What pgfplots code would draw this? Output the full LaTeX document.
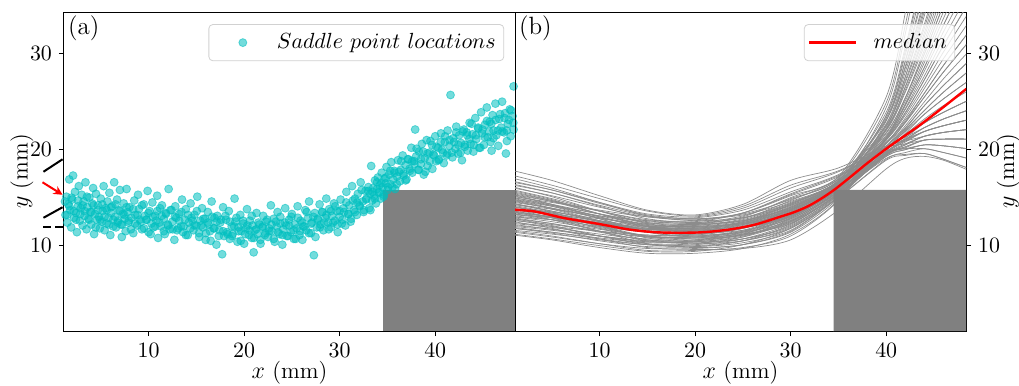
\documentclass[border=0pt]{standalone}
\usepackage{pgfplots}
\usepackage{pgfplotstable}
\pgfplotsset{compat=1.18}
\usetikzlibrary{arrows.meta}

\definecolor{scat}{RGB}{0,191,191}

\pgfplotstableread{
x y
1.3 13.2
1.4 15.1
1.5 12.4
1.6 14.3
1.7 16.9
1.8 13.7
1.9 11.9
2.0 14.8
2.1 17.3
2.2 12.9
2.3 15.6
2.4 13.4
2.5 11.4
2.6 14.1
2.7 16.2
2.8 12.6
2.9 13.9
3.0 15.3
3.1 12.1
3.2 14.6
3.3 13.1
3.4 16.6
3.5 11.7
3.6 14.0
3.7 12.8
3.8 15.0
3.9 13.5
4.0 12.2
4.1 14.4
4.2 16.0
4.3 11.2
4.4 13.3
4.5 15.4
4.6 12.7
4.7 14.2
4.8 13.0
4.9 11.8
5.0 14.9
5.1 12.5
5.2 13.6
5.3 16.2
5.4 11.6
5.5 13.9
5.6 12.3
5.7 14.6
5.8 12.9
5.9 15.5
6.0 11.1
6.1 13.4
6.2 14.1
6.3 12.0
6.4 16.6
6.5 13.0
6.6 11.9
6.7 14.8
6.8 12.6
6.9 13.7
7.0 15.8
7.1 12.2
7.2 10.9
7.3 13.3
7.4 14.4
7.5 12.8
7.6 11.5
7.7 15.9
7.8 13.5
7.9 12.4
8.0 14.0
8.2 12.9
8.4 11.3
8.5 14.7
8.6 13.2
8.8 12.1
8.9 15.3
9.0 13.8
9.2 12.5
9.3 11.7
9.5 14.3
9.6 13.1
9.8 12.7
9.9 15.7
10.0 11.4
10.1 13.6
10.3 12.3
10.4 14.5
10.5 11.9
10.7 13.1
10.8 12.6
10.9 15.2
11.0 10.8
11.2 13.9
11.3 12.0
11.4 14.2
11.6 12.8
11.7 11.2
11.8 13.4
12.0 12.2
12.1 15.9
12.2 11.7
12.4 13.7
12.5 12.5
12.7 10.6
12.8 14.1
12.9 12.9
13.1 11.8
13.2 13.3
13.4 12.0
13.5 14.8
13.6 11.4
13.8 12.7
13.9 13.8
14.1 11.1
14.2 12.4
14.4 14.4
14.5 12.9
14.7 11.6
14.8 13.2
15.0 12.1
15.1 15.1
15.3 10.9
15.4 12.6
15.6 13.9
15.7 11.9
15.9 12.8
16.0 11.3
16.2 13.5
16.3 12.2
16.5 10.5
16.6 14.6
16.8 11.8
16.9 12.9
17.1 10.1
17.2 13.1
17.4 11.6
17.5 12.4
17.7 9.1
17.8 14.0
17.9 11.0
18.1 12.7
18.2 11.4
18.4 13.6
18.5 10.7
18.7 12.0
18.8 11.2
19.0 14.9
19.1 12.5
19.3 10.4
19.4 11.9
19.6 13.2
19.7 11.5
19.9 12.3
20.0 10.2
20.2 11.8
20.3 13.8
20.5 11.1
20.6 12.6
20.8 10.8
20.9 12.1
21.0 9.3
21.1 11.6
21.3 13.4
21.4 11.2
21.6 12.2
21.7 10.6
21.9 11.9
22.0 13.1
22.2 11.3
22.3 12.5
22.5 10.9
22.6 11.8
22.8 14.2
22.9 11.5
23.1 12.8
23.2 10.4
23.4 12.0
23.5 13.5
23.7 11.2
23.8 12.3
24.0 10.1
24.1 11.7
24.3 13.9
24.4 12.1
24.6 11.0
24.7 12.7
24.9 11.4
25.0 13.3
25.2 10.7
25.3 12.2
25.5 11.8
25.6 14.1
25.8 11.1
25.9 12.6
26.1 10.6
26.2 12.0
26.4 13.7
26.5 11.6
26.7 12.9
26.8 14.6
27.0 11.3
27.1 12.4
27.3 9.0
27.4 13.4
27.6 11.9
27.7 12.8
27.9 14.3
28.0 12.2
28.2 13.5
28.3 11.6
28.5 12.9
28.6 14.9
28.8 12.4
28.9 13.8
29.1 11.9
29.2 13.1
29.4 14.4
29.5 12.6
29.7 13.6
29.8 11.4
30.0 13.0
30.1 14.8
30.3 12.7
30.4 13.9
30.6 12.1
30.7 15.6
30.9 13.3
31.0 14.2
31.2 12.8
31.3 16.2
31.5 13.7
31.6 14.9
31.8 13.2
31.9 15.4
32.1 14.1
32.2 16.6
32.4 14.6
32.5 13.5
32.7 15.7
32.8 14.9
33.0 16.1
33.1 13.9
33.2 15.4
33.3 18.3
33.4 14.7
33.5 16.0
33.6 15.2
33.7 16.8
33.8 14.4
33.9 15.9
34.0 17.1
34.1 15.5
34.2 16.3
34.3 14.9
34.4 17.6
34.5 16.1
34.6 15.3
34.7 17.0
34.8 16.5
34.9 18.2
35.0 15.8
35.2 17.4
35.3 16.4
35.4 18.7
35.6 16.9
35.7 17.8
35.8 15.9
36.0 17.2
36.1 18.9
36.3 16.7
36.4 17.9
36.6 19.4
36.7 17.3
36.9 18.4
37.0 16.9
37.2 19.0
37.3 18.0
37.5 20.2
37.6 17.6
37.8 18.8
37.9 22.1
38.0 19.3
38.2 17.9
38.3 19.8
38.5 18.5
38.6 20.6
38.8 17.4
38.9 19.1
39.1 21.0
39.2 18.3
39.4 19.7
39.5 20.9
39.7 18.0
39.8 19.5
40.0 21.4
40.1 18.8
40.3 20.2
40.4 19.0
40.6 21.7
40.7 20.0
40.9 18.6
41.0 20.8
41.2 19.4
41.3 22.0
41.5 20.4
41.6 25.7
41.8 19.2
41.9 21.2
42.1 20.1
42.2 22.4
42.4 19.6
42.5 21.5
42.7 20.7
42.8 18.9
43.0 22.1
43.1 20.3
43.3 21.8
43.4 19.9
43.6 22.8
43.7 20.6
43.9 21.6
44.0 19.8
44.2 23.3
44.3 21.1
44.5 22.2
44.6 20.2
44.8 23.9
44.9 21.7
45.1 20.5
45.2 22.6
45.4 24.4
45.5 21.3
45.7 22.9
45.8 20.8
46.0 23.6
46.1 22.0
46.3 24.8
46.4 21.5
46.6 20.4
46.7 23.2
46.9 22.3
47.0 25.0
47.2 21.8
47.3 23.8
47.5 20.9
47.6 22.7
47.8 24.2
47.9 21.4
48.1 23.5
48.2 26.6
48.2 22.1
47.4 19.6
45.9 19.9
1.25 14.6
1.48 13.2
1.71 14.1
1.94 15.0
2.17 13.6
2.40 12.7
2.63 14.7
2.86 13.3
3.09 14.2
3.32 13.6
3.55 15.1
3.78 12.7
4.01 13.5
4.24 14.2
4.47 11.9
4.70 13.7
4.93 12.7
5.16 14.3
5.39 13.0
5.62 13.7
5.85 12.2
6.08 14.0
6.31 12.7
6.54 14.3
6.77 12.4
7.00 13.6
7.23 12.2
7.46 13.2
7.69 14.0
7.92 12.6
8.15 11.7
8.38 13.8
8.61 12.3
8.84 13.2
9.07 12.7
9.30 14.2
9.53 11.8
9.76 12.7
9.99 13.4
10.22 11.2
10.45 13.0
10.68 12.0
10.91 13.6
11.14 12.4
11.37 13.1
11.60 11.5
11.83 13.3
12.06 12.1
12.29 13.7
12.52 11.7
12.75 13.0
12.98 11.6
13.21 12.6
13.44 13.5
13.67 12.0
13.90 11.1
14.13 13.2
14.36 11.8
14.59 12.6
14.82 12.1
15.05 13.6
15.28 11.3
15.51 12.1
15.74 12.8
15.97 10.6
16.20 12.4
16.43 11.5
16.66 13.0
16.89 11.8
17.12 12.5
17.35 11.0
17.58 12.7
17.81 11.5
18.04 13.1
18.27 11.2
18.50 12.5
18.73 11.0
18.96 12.0
19.19 12.9
19.42 11.5
19.65 10.5
19.88 12.6
20.11 11.2
20.34 12.1
20.57 11.6
20.80 13.1
21.03 10.8
21.26 11.7
21.49 12.4
21.72 10.2
21.95 12.0
22.18 11.1
22.41 12.7
22.64 11.5
22.87 12.2
23.10 10.7
23.33 12.5
23.56 11.4
23.79 13.0
24.02 11.1
24.25 12.4
24.48 11.0
24.71 12.1
24.94 13.0
25.17 11.6
25.40 10.7
25.63 12.9
25.86 11.5
26.09 12.4
26.32 12.0
26.55 13.5
26.78 11.3
27.01 12.3
27.24 13.0
27.47 10.9
27.70 12.7
27.93 11.9
28.16 13.5
28.39 12.4
28.62 13.2
28.85 11.7
29.08 13.6
29.31 12.4
29.54 14.1
29.77 12.2
30.00 13.6
30.23 12.3
30.46 13.5
30.69 14.5
30.92 13.3
31.15 12.5
31.38 14.7
31.61 13.5
31.84 14.5
32.07 14.2
32.30 15.8
32.53 13.7
32.76 14.8
32.99 15.7
33.22 13.7
33.45 15.6
33.68 14.9
33.91 16.6
34.14 15.6
34.37 16.5
34.60 15.1
34.83 17.1
35.06 16.1
35.29 17.8
35.52 16.1
35.75 17.6
35.98 16.4
36.21 17.7
36.44 18.8
36.67 17.5
36.90 16.8
37.13 19.0
37.36 17.8
37.59 18.8
37.82 18.5
38.05 20.1
38.28 17.9
38.51 19.0
38.74 19.8
38.97 17.7
39.20 19.6
39.43 18.8
39.66 20.5
39.89 19.4
40.12 20.3
40.35 18.9
40.58 20.8
40.81 19.7
41.04 21.4
41.27 19.6
41.50 21.0
41.73 19.7
41.96 20.8
42.19 21.8
42.42 20.5
42.65 19.7
42.88 21.9
43.11 20.5
43.34 21.5
43.57 21.1
43.80 22.7
44.03 20.5
44.26 21.5
44.49 22.3
44.72 20.2
44.95 22.1
45.18 21.3
45.41 23.0
45.64 21.9
45.87 22.7
46.10 21.2
46.33 23.1
46.56 22.0
46.79 23.7
47.02 21.9
47.25 23.3
47.48 22.0
47.71 23.1
47.94 24.1
48.17 22.8
}\saddle

\pgfplotstableread{
x c1 c2 c3 c4 c5 c6 c7 c8 c9 c10 c11 c12 c13 c14 c15 c16 c17 c18 c19 c20 c21 c22 c23 c24 c25 c26 c27 c28 c29 c30 c31 c32 c33 c34 c35 c36 c37 c38 c39 c40 c41 c42 c43 c44 c45 c46 c47 c48 c49 c50 c51 c52 c53 c54 c55 c56 c57 c58 c59 c60 c61 c62 c63 c64 c65 c66 c67 c68 c69 c70
1 13.8 15.0 12.8 16.3 11.8 14.4 13.3 15.6 12.2 17.8 14.1 11.2 14.8 13.5 15.8 12.5 14.6 13.0 15.3 11.6 14.0 16.6 13.6 12.0 14.9 14.3 12.7 17.0 13.2 14.7 11.4 15.2 13.9 12.4 16.0 12.9 14.5 13.7 15.7 11.9 14.2 16.4 13.4 15.4 12.6 13.8 11.1 15.1 13.1 14.4 14.7 12.3 15.5 13.5 17.3 11.5 14.0 14.8 13.0 16.1 12.1 14.3 13.3 15.0 12.8 16.7 13.8 11.8 15.3 13.6
5 13.2 14.3 12.3 15.5 11.3 13.6 12.9 14.7 11.7 16.8 13.3 10.7 14.2 13.0 14.9 11.8 13.9 12.5 14.6 11.2 13.5 15.8 12.9 11.6 14.1 13.6 12.0 16.0 12.9 13.8 10.9 14.3 13.1 12.0 15.2 12.3 13.9 13.2 14.8 11.4 13.4 15.5 13.0 14.6 12.2 12.9 10.6 14.5 12.7 13.5 14.1 11.9 14.7 12.7 16.3 11.0 13.4 13.9 12.7 15.1 11.7 13.8 12.7 14.2 12.1 15.8 13.3 11.4 14.3 13.0
10 12.4 13.3 11.5 14.2 10.5 12.5 12.3 13.3 11.0 15.2 12.0 10.0 13.3 12.1 13.6 10.7 12.9 11.7 13.6 10.6 12.8 14.5 11.9 11.0 12.8 12.6 11.0 14.5 12.3 12.5 10.2 13.0 11.8 11.5 14.0 11.4 12.9 12.4 13.3 10.7 12.1 14.1 12.3 13.3 11.5 11.5 9.8 13.7 12.0 12.1 13.1 11.2 13.6 11.5 14.9 10.2 12.5 12.6 12.3 13.6 11.0 13.1 11.8 13.0 11.0 14.4 12.6 10.8 12.8 12.2
15 11.7 12.4 10.9 13.1 9.9 11.5 11.8 12.1 10.4 13.7 10.9 9.4 12.5 11.4 12.4 9.8 12.0 11.1 12.7 10.1 12.3 13.3 11.0 10.5 11.6 11.7 10.2 13.1 11.9 11.4 9.7 11.8 10.6 11.1 13.0 10.6 12.1 11.7 12.0 10.1 11.0 12.8 11.7 12.2 10.9 10.2 9.2 13.0 11.4 10.8 12.2 10.7 12.6 10.5 13.6 9.5 11.7 11.5 12.0 12.3 10.4 12.6 11.0 12.0 10.1 13.2 12.0 10.3 11.4 11.5
20 11.6 12.2 10.9 12.8 9.9 11.2 11.9 11.7 10.4 13.2 10.6 9.4 12.4 11.4 12.0 9.6 11.8 11.1 12.5 10.2 12.3 13.0 10.8 10.6 11.3 11.5 10.0 12.6 12.1 11.0 9.7 11.4 10.3 11.2 12.7 10.5 12.0 11.7 11.6 10.1 10.7 12.4 11.8 11.9 11.0 9.8 9.2 12.9 11.5 10.4 12.1 10.8 12.3 10.2 13.1 9.5 11.6 11.1 12.2 11.8 10.5 12.6 10.9 11.7 9.9 12.8 12.0 10.4 10.9 11.4
25 12.1 12.6 11.4 13.2 10.5 11.8 12.5 12.0 11.0 14.3 11.2 10.1 13.1 11.8 12.4 9.7 12.5 11.8 13.4 10.9 12.9 13.9 11.1 11.4 11.6 12.2 10.5 12.9 12.8 11.6 10.1 12.0 10.7 11.9 13.4 11.1 12.3 12.4 11.9 10.7 11.1 12.9 12.4 12.3 11.5 10.1 9.7 13.7 11.9 10.7 12.7 11.3 12.6 10.5 14.1 9.8 12.2 11.4 13.0 12.2 11.2 13.4 11.5 12.3 10.3 13.3 12.6 10.9 11.2 12.0
30 13.7 14.0 13.0 14.6 12.2 13.5 14.2 13.1 12.6 16.8 12.9 11.8 14.9 13.2 13.8 10.6 14.3 13.6 15.4 12.8 14.5 16.0 12.4 13.4 12.8 13.9 11.9 14.2 14.7 13.3 11.5 13.6 12.1 13.8 15.2 12.7 13.4 14.1 13.0 12.3 12.5 14.4 14.0 13.7 13.1 11.4 11.2 15.6 13.2 12.0 14.4 12.9 13.9 11.8 16.3 11.0 13.8 12.6 15.0 13.5 13.1 15.3 13.2 14.0 11.6 14.8 14.3 12.5 12.3 13.7
35 16.3 16.5 15.9 16.8 15.4 16.2 16.6 15.9 15.6 18.1 15.8 15.1 17.0 16.0 16.3 13.7 16.6 16.2 17.3 15.7 16.8 17.7 15.5 16.1 15.7 16.4 15.2 16.6 16.9 16.0 15.0 16.2 15.3 16.3 17.2 15.7 16.1 16.5 15.9 15.4 15.6 16.7 16.5 16.3 15.9 14.9 14.8 17.4 16.0 15.3 16.7 15.8 16.4 15.1 17.8 14.7 16.3 15.6 17.1 16.2 15.9 17.2 16.0 16.5 15.0 16.9 16.6 15.6 15.4 16.3
40 20.4 21.4 19.7 23.3 19.3 20.7 22.1 19.8 20.3 20.4 19.5 19.7 24.9 21.0 22.6 18.0 21.8 20.1 19.8 20.7 23.9 20.3 19.5 22.1 20.3 21.2 19.6 23.1 20.3 20.6 19.0 21.5 19.9 21.0 25.5 19.5 19.8 22.4 21.1 20.1 19.1 22.0 23.5 19.6 21.3 20.3 22.2 20.3 22.7 19.4 22.2 19.6 21.1 20.1 20.2 21.2 24.4 19.3 23.1 20.2 21.2 20.2 23.6 20.1 18.9 22.5 20.8 23.0 19.4 21.7
42 22.1 24.7 20.8 29.2 20.0 23.1 26.2 21.1 22.5 20.9 20.3 21.2 33.0 23.8 27.6 19.1 25.4 21.6 20.1 23.3 30.7 21.1 20.5 26.6 22.3 24.2 21.0 28.7 21.5 22.8 19.7 25.1 21.7 23.6 34.3 20.3 20.9 27.2 24.3 22.0 19.5 26.0 29.9 20.1 24.8 22.9 27.6 21.3 28.1 20.5 26.5 20.6 23.9 22.2 20.6 25.4 32.1 20.0 28.5 21.9 24.6 21.0 30.3 21.4 19.4 27.0 22.9 29.3 20.2 25.4
44 24.1 28.6 21.9 36.7 20.5 25.9 31.3 22.3 25.0 21.4 21.0 22.8 43.5 27.3 34.0 19.3 30.0 23.2 20.1 26.4 39.4 21.9 21.4 32.2 24.6 27.7 22.3 35.8 22.8 25.5 20.1 29.5 23.7 26.8 45.7 21.0 21.9 33.1 28.2 24.1 19.6 30.9 38.1 20.5 29.1 25.9 34.5 22.3 34.9 21.4 31.8 21.4 27.3 24.6 21.0 30.4 42.1 20.5 35.4 23.7 28.6 21.9 39.0 22.8 19.6 32.7 25.5 37.2 21.0 30.0
46 26.0 33.0 22.5 45.6 20.4 28.8 37.2 23.2 27.4 21.8 21.1 23.9 56.1 30.9 41.4 18.9 35.1 24.6 19.7 29.5 49.8 22.5 21.8 38.6 26.7 31.6 23.2 44.2 23.9 28.1 19.7 34.4 25.3 30.2 59.6 21.1 22.5 40.0 32.3 26.0 19.0 36.5 47.7 20.4 33.7 28.8 42.1 23.2 42.8 21.8 37.9 21.8 30.9 26.7 21.1 35.8 54.0 20.4 43.5 25.3 33.0 22.5 49.1 23.9 19.0 39.3 28.1 46.3 21.1 35.1
48.5 28.1 38.1 23.1 56.1 20.1 32.1 44.1 24.1 30.1 22.1 21.1 25.1 71.1 35.1 50.1 17.9 41.1 26.1 19.1 33.1 62.1 23.1 22.1 46.1 29.1 36.1 24.1 54.1 25.1 31.1 19.1 40.1 27.1 34.1 76.1 21.1 23.1 48.1 37.1 28.1 18.1 43.1 59.1 20.1 39.1 32.1 51.1 24.1 52.1 22.1 45.1 22.1 35.1 29.1 21.1 42.1 68.1 20.1 53.1 27.1 38.1 23.1 61.1 25.1 18.1 47.1 31.1 57.1 21.1 41.1
}\curves

\pgfplotstableread{
x y
1.06 13.74
3.2 13.56
6.3 12.87
9.8 12.28
13.3 11.65
16.4 11.37
20.3 11.37
23.4 11.65
26.2 12.17
29.0 13.04
30.4 13.5
31.8 14.1
33.2 14.9
34.6 15.85
36.0 16.95
37.9 18.5
39.8 19.95
41.5 21.15
43.3 22.4
46.0 24.45
48.4 26.35
}\median

\pgfplotsset{
  panel/.style={
    scale only axis, width=225.5pt, height=159.5pt,
    xmin=1.15, xmax=48.35, ymin=1.1, ymax=34.35,
    xtick={10,20,30,40}, ytick={10,20,30},
    tick align=outside, major tick length=2.5pt,
    tick style={black, line width=0.45pt},
    axis line style={line width=0.5pt},
    tick label style={font=\fontsize{11}{13}\selectfont},
    label style={font=\fontsize{11.5}{13}\selectfont},
    xlabel={$x$ (mm)}, ylabel={$y$ (mm)},
    xtick pos=bottom,
    xlabel style={at={(axis description cs:0.5,-0.132)}, anchor=center},
    legend cell align=left,
  },
  mylegend/.style={
    legend style={at={(0.976,0.962)}, anchor=north east,
      draw=black!18, rounded corners=2pt, fill=white, fill opacity=0.8,
      draw opacity=1, text opacity=1, inner xsep=2pt, inner ysep=2.5pt,
      font=\fontsize{11}{13}\selectfont},
  },
}

\begin{document}
\begin{tikzpicture}
\path[use as bounding box] (-32pt,-27.5pt) rectangle (477.5pt,165.5pt);

% ---------------- (a)
\begin{axis}[panel, mylegend, at={(0pt,0pt)}, anchor=south west,
    ytick pos=left, clip=false,
    ylabel style={at={(axis description cs:-0.0933,0.5)}, anchor=center}]
\addplot[only marks, mark=*, mark size=2pt, color=scat,
  mark options={fill=scat, draw=scat, fill opacity=0.55, draw opacity=0.55},
  legend image code/.code={\path[draw=none, fill=none] (0pt,-2pt) rectangle (30pt,2pt); \draw plot coordinates {(15pt,0pt)};}]
  table[x=x, y=y] {\saddle};
\addlegendentry{$Saddle\ point\ locations$}
\addplot[fill=gray, draw=none, forget plot] coordinates {(34.5,1.1)(34.5,15.8)(48.35,15.8)(48.35,1.1)} -- cycle;
\addplot[black, line width=1pt, forget plot] coordinates {(-1.0,17.7)(1.0,19.0)};
\addplot[black, line width=1pt, forget plot] coordinates {(-1.0,12.9)(1.0,14.0)};
\addplot[black, line width=1pt, dash pattern=on 4pt off 2pt, forget plot] coordinates {(-1.0,11.9)(1.0,11.9)};
\addplot[red, line width=1pt, -{Stealth[length=4.5pt,width=4.5pt]}, forget plot] coordinates {(-1.1,16.6)(1.0,15.3)};
\node[anchor=north west, inner sep=0pt, font=\fontsize{12.5}{14}\selectfont] at (rel axis cs:0.008,0.988) {(a)};
\end{axis}

% ---------------- (b)
\begin{axis}[panel, mylegend, at={(225.5pt,0pt)}, anchor=south west,
    ytick pos=right, yticklabel pos=right,
    ylabel style={at={(axis description cs:1.094,0.5)}, anchor=center},
    legend image code/.code={\draw (0pt,0pt) -- (23.5pt,0pt);},
    legend style={/tikz/every odd column/.append style={column sep=6pt}}]
\pgfplotsinvokeforeach{1,...,70}{
  \addplot[color=black!45, line width=0.35pt, smooth, tension=0.5, forget plot] table[x=x, y=c#1] {\curves};
}
\addplot[fill=gray, draw=none, forget plot] coordinates {(34.5,0)(34.5,15.8)(50,15.8)(50,0)} \closedcycle;
\addplot[red, line width=1.2pt, smooth] table[x=x, y=y] {\median};
\addlegendentry{$median$}
\node[anchor=north west, inner sep=0pt, font=\fontsize{12.5}{14}\selectfont] at (rel axis cs:0.008,0.988) {(b)};
\end{axis}
\end{tikzpicture}
\end{document}
